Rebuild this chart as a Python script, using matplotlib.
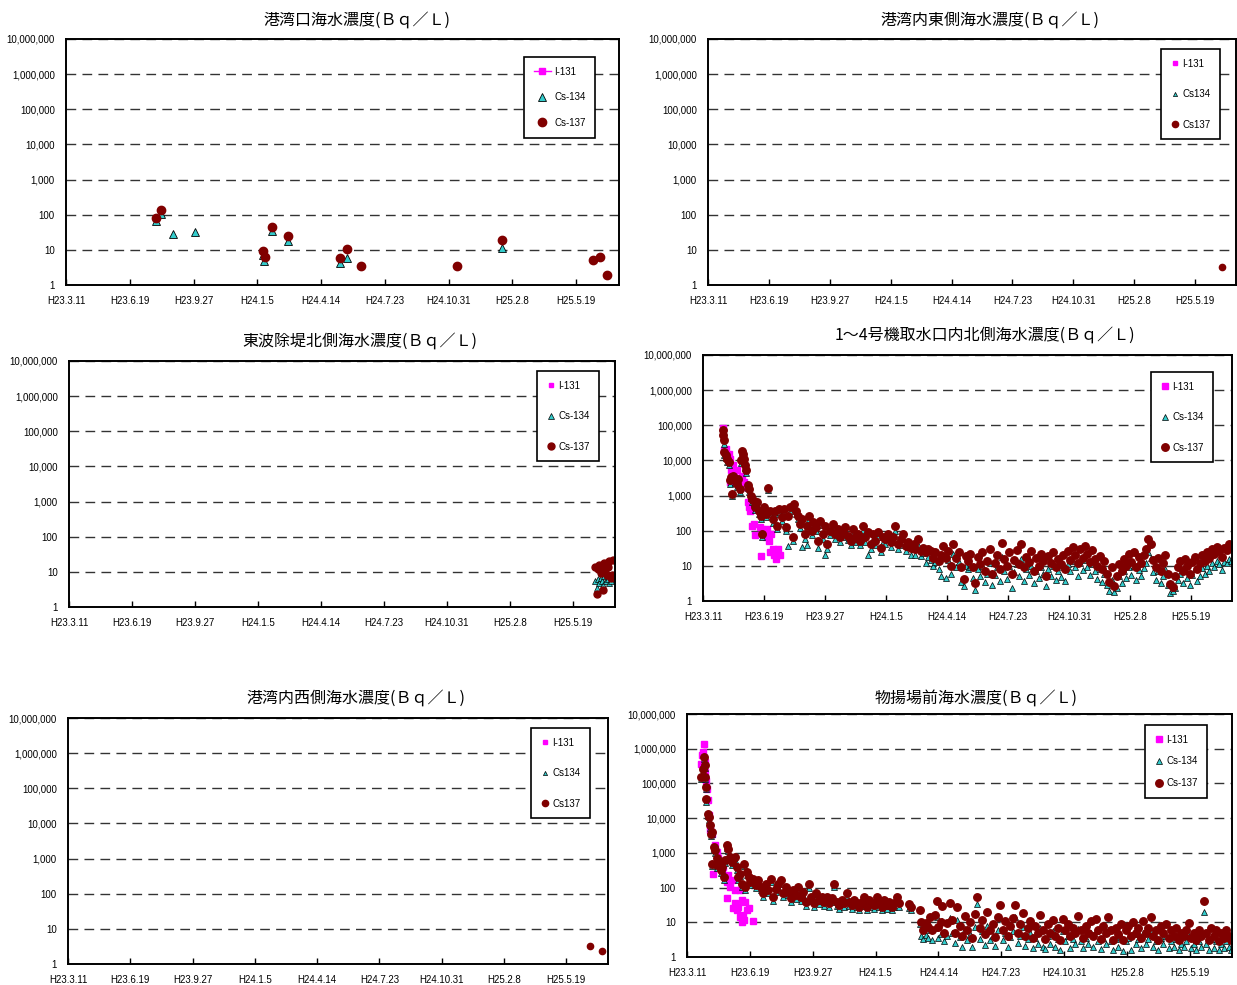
import matplotlib
matplotlib.use("Agg")
import matplotlib.pyplot as plt
from matplotlib.ticker import FixedLocator, FuncFormatter, NullLocator

plt.rcParams['font.family'] = ['Liberation Sans', 'Noto Sans CJK JP', 'DejaVu Sans']

# x axis: days since H23.3.11 (2011-03-11)
tick_days = [0, 100, 200, 300, 400, 500, 600, 700, 800]
tick_labels = ["H23.3.11", "H23.6.19", "H23.9.27", "H24.1.5", "H24.4.14",
               "H24.7.23", "H24.10.31", "H25.2.8", "H25.5.19"]
decades = [1, 10, 100, 1000, 10000, 100000, 1000000, 10000000]

# --- 港湾口 ---
p1_i131_days, p1_i131 = [], []
p1_cs134_days = [141, 149, 167, 203, 308.5, 310, 323, 348, 430, 441, 683]
p1_cs134 = [68, 105, 28, 32, 7, 4.8, 34, 18, 4.3, 5.7, 11.5]
p1_cs137_days = [141, 149, 308.5, 311.6, 323, 348, 430, 441, 463, 613, 683, 826, 837, 848.5]
p1_cs137 = [79, 136, 9.5, 6.1, 44, 24, 6, 10.8, 3.5, 3.5, 18.7, 5.1, 6.3, 1.9]

# --- 港湾内東側 ---
p2_days = [844.5]
p2_cs137 = [3.2]

# --- 東波除堤北側 ---
p3_days = [836, 838, 840, 842, 844, 846, 848, 850, 852, 854, 856, 858, 860, 862, 864]
p3_cs137 = [14, 2.4, 12, 16, 9, 11, 3.0, 18, 13, 8, 14, 20, 6.6, 8.2, 22]
p3_cs134 = [5.5, 3.4, 6.3, 4.7, 6.6, 5.6, 4.2, 7.4, 5.6, 8.2, 6.2, 4.8, 5.5, 6.8, 7.6]

# --- 1～4号機取水口内北側 ---
p4_i131_days = [33, 35, 38, 42, 44, 45, 46, 49, 51, 53, 56, 62, 64, 67, 70, 73, 75, 77,
                81, 84, 86, 93, 95, 97, 100, 103, 105, 108, 110, 112, 114, 116, 119, 123, 126]
p4_i131 = [85000, 19500, 21500, 15500, 11000, 2400, 5200, 7200, 4600, 2700, 5200, 3000,
           3700, 2400, 1750, 650, 470, 370, 140, 160, 76, 125, 19, 112, 90, 65, 112, 52,
           24, 80, 30, 21, 15.5, 30, 21]
p4_days = [32, 33, 34, 35, 37, 40, 42, 44, 46, 48, 49, 52, 55, 57, 60, 62, 64, 65, 67, 69,
           71, 73, 75, 78, 81, 84, 86, 89, 92, 95, 96, 100, 103, 107, 110, 114, 118, 121,
           125, 129, 132, 136, 140, 143, 147, 149, 152, 156, 159, 163, 167, 170, 174, 178,
           181, 185, 189, 192, 196, 200, 204, 208, 213, 216, 221, 225, 229, 233, 237, 242,
           246, 249, 254, 258, 262, 266, 270, 275, 279, 282, 287, 291, 295, 299, 303, 308,
           312, 315, 320, 324, 328, 332, 336, 341, 345, 348, 353, 357, 361, 365, 369, 374,
           377, 381, 386, 390, 394, 398, 402, 407, 410, 414, 419, 423, 427, 431, 435,
           438, 442, 446, 450, 454, 458, 462, 466, 470, 474,
           478, 482, 486, 490, 494, 498, 502, 506, 510, 514,
           518, 522, 526, 530, 534, 538, 542, 546, 550, 554,
           558, 562, 566, 570, 574, 578, 582, 586, 590, 594,
           598, 602, 606, 610, 614, 618, 622, 626, 630, 634,
           638, 642, 646, 650, 654, 658, 662, 666, 670, 674,
           678, 682, 686, 690, 694, 698, 702, 706, 710, 714,
           718, 722, 726, 730, 734, 738, 742, 746, 750, 754,
           758, 762, 766, 770, 774, 778, 782, 786, 790, 794,
           798, 802, 806, 810, 814, 818, 822, 826, 830, 834,
           838, 842, 846, 850, 854, 858, 862, 866]
p4_cs137 = [72000, 52000, 37000, 17000, 14000, 11000, 9000, 2700, 3300, 1100, 3700, 2700,
            2150, 3000, 1550, 10000, 19000, 15500, 11000, 7200, 5200, 1950, 1550, 1000, 800,
            720, 470, 650, 370, 270, 80, 470, 300, 1650, 370, 215, 370, 140, 420, 240, 420,
            125, 270, 470, 65, 580, 370, 270, 155, 215, 80, 140, 270, 100, 175, 125, 52, 195,
            80, 140, 42, 100, 155, 80, 112, 65, 90, 125, 72, 52, 112, 65, 80, 52, 140, 65, 90,
            42, 80, 52, 90, 33, 65, 57, 80, 47, 65, 140, 42, 57, 80, 37, 47, 33, 42, 30, 57,
            27, 33, 24, 30, 27, 17, 24, 14, 21, 37, 17, 27, 10, 42, 17, 24, 9, 4.2, 19, 14,
            22, 9, 3.2, 18, 11, 25, 7, 14, 30, 6,
            12, 20, 8, 46, 16, 10, 24, 6, 15, 28,
            11, 41, 9, 18, 13, 26, 7, 17, 10, 22,
            14, 5, 19, 12, 25, 9, 16, 11, 21, 8,
            27, 15, 35, 20, 12, 30, 17, 37, 22, 13,
            28, 16, 10, 19, 8, 14, 6, 3.5, 9, 2.6,
            5, 11, 7, 16, 10, 22, 13, 25, 9, 18,
            12, 20, 30, 57, 41, 15, 9, 17, 7, 12,
            20, 6, 3, 2.5, 5, 9, 14, 7, 16, 10,
            6, 13, 18, 8, 12, 20, 14, 25, 17, 30,
            22, 35, 26, 18, 33, 28, 41, 34]
p4_cs134 = [60000, 45000, 30000, 14000, 12000, 9000, 7500, 2200, 2800, 950, 3000, 2300,
            1800, 2500, 1300, 8500, 16000, 13000, 9000, 6000, 4300, 1600, 1300, 850, 650,
            600, 390, 540, 300, 220, 65, 380, 240, 1400, 300, 170, 300, 110, 340, 190, 330,
            95, 37, 370, 50, 460, 290, 210, 120, 35, 60, 40, 210, 75, 135, 95, 33, 150, 60,
            21, 30, 75, 120, 60, 85, 48, 68, 95, 54, 38, 85, 48, 60, 38, 105, 48, 21, 30, 60,
            38, 66, 24, 48, 42, 58, 34, 48, 100, 30, 40, 58, 26, 34, 21, 30, 21, 40, 19, 23,
            12, 18, 15, 10, 13, 8, 5.2, 20, 4.6, 15, 6, 22, 9, 13, 3.5, 2.6, 10, 8,
            9, 4.5, 2.1, 8, 5, 10, 3.5, 6, 12, 2.8,
            5.5, 9, 3.6, 18, 7, 4.2, 10, 2.4, 6.5, 11,
            5, 16, 3.8, 8, 5.5, 10, 3.2, 7, 4.5, 9,
            6, 2.6, 8, 5, 10, 4, 7, 4.8, 9, 3.6,
            11, 7, 14, 9, 5, 12, 7.5, 15, 9, 5.5,
            11, 7, 4.3, 8, 3.5, 6, 2.8, 1.9, 4, 1.8,
            2.4, 5, 3.2, 7, 4.4, 9, 5.5, 10, 3.9, 7.5,
            5, 8.5, 12, 24, 17, 6.5, 4, 7, 3.2, 5,
            8, 2.8, 1.7, 1.9, 2.4, 4, 6, 3.2, 7, 4.5,
            2.9, 5.5, 8, 3.6, 5, 8.5, 6, 10, 7, 12,
            9, 14, 11, 7.5, 13, 12, 16, 14]

# --- 港湾内西側 ---
p5_days = [838, 858]
p5_cs137 = [3.3, 2.4]

# --- 物揚場前 ---
p6_i131_days = [23, 24, 25.5, 26.6, 28, 29, 31, 32, 33.5, 35, 37, 39, 41, 44, 47, 49, 52,
                55, 57, 60, 63, 63.5, 65, 68, 71, 73, 76, 76.5, 79, 81, 84, 84.5, 87, 87.5,
                89, 91, 92, 95, 99, 105]
p6_i131 = [3.7e5, 6.4e5, 8e5, 1.4e6, 4.1e5, 2.1e5, 1.2e5, 7e4, 3.3e4, 1.2e4, 4500, 3600,
           250, 1700, 1070, 690, 490, 316, 400, 200, 145, 50, 230, 105, 160, 25, 85, 35, 22,
           28, 85, 14.5, 10.2, 44, 16, 11.5, 39, 22, 25, 11]
p6_days = [23, 25.5, 26.6, 28, 29, 30, 31, 33.5, 34.5, 36, 38, 39, 40, 43, 45, 47, 48, 51,
           54, 56, 59, 61, 64, 66, 69, 71, 73, 76, 79, 81, 84, 88, 91, 93, 96, 98, 101, 105,
           109, 113, 117, 121, 125, 129, 133, 137, 141, 145, 149, 153, 157, 161, 165, 169,
           173, 177, 181, 185, 189, 194, 198, 202, 206, 210, 214, 218, 222, 226, 230, 234,
           238, 242, 246, 250, 254, 258, 262, 266, 270, 274, 278, 282, 286, 290, 294, 298,
           302, 305, 310, 314, 318, 321, 326, 330, 334, 338, 353, 356, 371, 373, 376, 380,
           383, 387, 390, 395, 397, 400, 404, 406, 409, 413, 418,
           422, 426, 430, 434, 438, 442, 446, 450, 454, 458,
           462, 466, 470, 474, 478, 482, 486, 490, 494, 498,
           502, 506, 510, 514, 518, 522, 526, 530, 534, 538,
           542, 546, 550, 554, 558, 562, 566, 570, 574, 578,
           582, 586, 590, 594, 598, 602, 606, 610, 614, 618,
           622, 626, 630, 634, 638, 642, 646, 650, 654, 658,
           662, 666, 670, 674, 678, 682, 686, 690, 694, 698,
           702, 706, 710, 714, 718, 722, 726, 730, 734, 738,
           742, 746, 750, 754, 758, 762, 766, 770, 774, 778,
           782, 786, 790, 794, 798, 802, 806, 810, 814, 818,
           822, 826, 830, 834, 838, 842, 846, 850, 854, 858,
           862, 866]
p6_cs137 = [155000, 260000, 580000, 330000, 155000, 80000, 36000, 13500, 10500, 6200, 3600,
            4000, 490, 1480, 1200, 690, 440, 550, 316, 400, 200, 620, 1660, 1320, 760, 550,
            690, 760, 400, 200, 250, 130, 490, 105, 280, 200, 145, 180, 117, 160, 105, 68,
            130, 85, 180, 54, 93, 130, 160, 68, 105, 76, 49, 85, 60, 105, 54, 76, 39, 126,
            54, 35, 68, 44, 54, 39, 54, 35, 49, 130, 39, 31, 44, 35, 68, 39, 31, 44, 35, 28,
            39, 54, 28, 44, 35, 31, 54, 35, 28, 44, 31, 39, 28, 35, 54, 35, 33, 28, 22, 10,
            5.9, 9.3, 7.4, 14.5, 5.9, 16, 41, 7.4, 10, 29, 4.8, 9.3, 36,
            12, 5, 27, 8, 4, 15, 6, 10, 3.5, 17,
            54, 7, 12, 4.5, 20, 6, 9, 3.8, 14, 31,
            6, 11, 4, 8, 13, 32, 5, 9, 18, 4,
            7, 11, 3.5, 8, 5, 16, 6, 3.2, 9, 5,
            12, 4, 7, 3, 12.5, 6, 9, 4, 7, 5,
            15.5, 6, 3.5, 8, 5, 11, 4, 12.5, 6, 3.2,
            8, 5, 14.5, 6, 3, 7, 4.5, 9, 3, 6,
            8, 4, 10, 5, 7, 3.5, 11, 5, 7, 14.5,
            4, 6, 3, 8, 5, 9, 3.5, 6, 4, 7,
            3, 5, 4, 6, 9.5, 3.5, 5, 3, 6, 4,
            42, 5, 3, 7, 4, 6, 2.8, 5, 3.5, 6,
            4, 3]
p6_cs134 = [130000, 220000, 500000, 280000, 130000, 68000, 30000, 11500, 9000, 5300, 3100,
            3400, 420, 1250, 1000, 580, 370, 460, 260, 330, 165, 520, 1400, 1100, 640, 460,
            580, 640, 330, 165, 210, 105, 410, 85, 230, 165, 120, 150, 95, 130, 85, 55, 105,
            68, 145, 42, 75, 105, 130, 54, 85, 60, 38, 68, 47, 85, 42, 60, 30, 100, 42, 27,
            54, 34, 42, 30, 42, 27, 38, 105, 30, 24, 34, 27, 54, 30, 24, 34, 27, 22, 30, 42,
            22, 34, 27, 24, 42, 27, 22, 34, 24, 30, 22, 27, 42, 27, 26, 22, 9, 4, 3.2, 4.2,
            3.5, 6, 3.0, 7, 14, 3.6, 4.5, 11, 2.8, 4, 13,
            5, 2.5, 12, 3.8, 2, 6.5, 3, 4.5, 1.9, 7.5,
            33, 3.4, 5.5, 2.2, 8, 3, 4, 2.1, 6, 13,
            3, 5, 2, 3.8, 5.5, 14, 2.5, 4, 7.5, 2.1,
            3.3, 5, 1.8, 3.6, 2.4, 7, 2, 1.7, 4, 2.4,
            5.5, 2, 3.3, 1.6, 5.5, 2.8, 4, 1.8, 3.2, 2.3,
            6.5, 2.8, 1.8, 3.6, 2.3, 5, 2, 5.5, 2.8, 1.7,
            3.6, 2.3, 6, 2.8, 1.6, 3.2, 1.9, 4, 1.5, 2.8,
            3.6, 1.6, 4.5, 2.3, 3.2, 1.8, 5, 2.3, 3.2, 6,
            2, 2.8, 1.6, 3.6, 2.3, 4, 1.8, 2.8, 2, 3.2,
            1.6, 2.3, 2, 2.8, 4, 1.8, 2.3, 1.6, 2.8, 2,
            20, 2.3, 1.6, 3.2, 1.8, 2.8, 1.6, 2.3, 1.8, 2.8,
            2, 1.6]

W, H = 1237, 985
fig = plt.figure(figsize=(W / 100, H / 100), dpi=100)

C_I = '#FF00FF'
C_134 = '#33CCCC'
C_137 = '#800000'


def make_panel(box, title, title_xy):
    l, r, t, b = box
    ax = fig.add_axes([l / W, 1 - b / H, (r - l) / W, (b - t) / H])
    ax.set_yscale('log')
    ax.set_ylim(1, 1e7)
    ax.set_xlim(0, 867)
    ax.yaxis.set_major_locator(FixedLocator(decades))
    ax.yaxis.set_minor_locator(NullLocator())
    ax.yaxis.set_major_formatter(FuncFormatter(lambda v, _: f"{int(round(v)):,}"))
    ax.set_xticks(tick_days)
    ax.set_xticklabels(tick_labels)
    ax.tick_params(axis='x', direction='in', length=4, width=1, pad=8, labelsize=7)
    ax.tick_params(axis='y', length=0, pad=8, labelsize=7)
    ax.grid(axis='y', color='#333333', linestyle=(0, (7, 4.5)), linewidth=1.0)
    ax.set_axisbelow(True)
    for s in ax.spines.values():
        s.set_linewidth(1.4)
        s.set_color('black')
    fig.text(title_xy[0] / W, 1 - title_xy[1] / H, title, ha='center', va='center',
             fontsize=11.5, family=['Noto Sans CJK JP', 'DejaVu Sans'])
    return ax


def add_legend(ax, xy, spacing, hl=0.9):
    leg = ax.legend(loc='upper left', bbox_to_anchor=(xy[0] / W, 1 - xy[1] / H),
                    bbox_transform=fig.transFigure, frameon=True, fancybox=False,
                    edgecolor='black', framealpha=1, fontsize=7, borderpad=1.0,
                    labelspacing=spacing, handlelength=hl, handletextpad=0.3,
                    borderaxespad=0)
    leg.get_frame().set_linewidth(1.2)


# panel 1
ax1 = make_panel((66, 619, 39, 285), "港湾口海水濃度(Ｂｑ／Ｌ)", (357, 20))
ax1.plot(p1_i131_days, p1_i131, color=C_I, marker='s', ms=4, lw=1, label='I-131')
ax1.plot(p1_cs134_days, p1_cs134, ls='none', marker='^', ms=6, mfc=C_134, mec='black',
         mew=0.6, label='Cs-134')
ax1.plot(p1_cs137_days, p1_cs137, ls='none', marker='o', ms=6, mfc=C_137, mec=C_137,
         label='Cs-137')
add_legend(ax1, (524, 57), 1.6, hl=1.8)

# panel 2
ax2 = make_panel((708, 1236, 39, 285), "港湾内東側海水濃度(Ｂｑ／Ｌ)", (990, 20))
ax2.plot([], [], ls='none', marker='s', ms=3.5, mfc=C_I, mec=C_I, label='I-131')
ax2.plot([], [], ls='none', marker='^', ms=3, mfc=C_134, mec='black', mew=0.5, label='Cs134')
ax2.plot(p2_days, p2_cs137, ls='none', marker='o', ms=4.5, mfc=C_137, mec=C_137,
         label='Cs137')
add_legend(ax2, (1161, 49), 2.1)

# panel 3
ax3 = make_panel((69, 615, 361, 607), "東波除堤北側海水濃度(Ｂｑ／Ｌ)", (360, 341))
ax3.plot([], [], ls='none', marker='s', ms=3.5, mfc=C_I, mec=C_I, label='I-131')
ax3.plot(p3_days, p3_cs134, ls='none', marker='^', ms=3.8, mfc=C_134, mec='black',
         mew=0.5, label='Cs-134')
ax3.plot(p3_days, p3_cs137, ls='none', marker='o', ms=5, mfc=C_137, mec=C_137,
         label='Cs-137')
add_legend(ax3, (537, 371), 2.1)

# panel 4
ax4 = make_panel((703, 1232, 355, 601), "1～4号機取水口内北側海水濃度(Ｂｑ／Ｌ)", (985, 335))
ax4.plot(p4_i131_days, p4_i131, ls='none', marker='s', ms=4, mfc=C_I, mec=C_I,
         label='I-131')
ax4.plot(p4_days, p4_cs134, ls='none', marker='^', ms=4, mfc=C_134, mec='black',
         mew=0.5, label='Cs-134')
ax4.plot(p4_days, p4_cs137, ls='none', marker='o', ms=5.4, mfc=C_137, mec=C_137,
         label='Cs-137')
add_legend(ax4, (1151, 372), 2.1)

# panel 5
ax5 = make_panel((68, 608, 718, 964), "港湾内西側海水濃度(Ｂｑ／Ｌ)", (356, 698))
ax5.plot([], [], ls='none', marker='s', ms=3.5, mfc=C_I, mec=C_I, label='I-131')
ax5.plot([], [], ls='none', marker='^', ms=3, mfc=C_134, mec='black', mew=0.5, label='Cs134')
ax5.plot(p5_days, p5_cs137, ls='none', marker='o', ms=4.5, mfc=C_137, mec=C_137,
         label='Cs137')
add_legend(ax5, (531, 728), 2.1)

# panel 6
ax6 = make_panel((687, 1232, 714, 957), "物揚場前海水濃度(Ｂｑ／Ｌ)", (976, 698))
ax6.plot(p6_i131_days, p6_i131, ls='none', marker='s', ms=4, mfc=C_I, mec=C_I,
         label='I-131')
ax6.plot(p6_days, p6_cs134, ls='none', marker='^', ms=4, mfc=C_134, mec='black',
         mew=0.5, label='Cs-134')
ax6.plot(p6_days, p6_cs137, ls='none', marker='o', ms=5.4, mfc=C_137, mec=C_137,
         label='Cs-137')
add_legend(ax6, (1145, 725), 1.2)

fig.savefig('out.png', dpi=100)
